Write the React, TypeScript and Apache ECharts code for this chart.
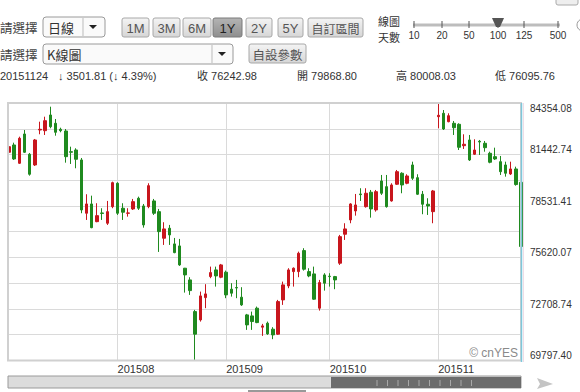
import React, { useEffect, useRef } from "react";
import * as echarts from "echarts";

// ---- data ----
const julDays = [3, 6, 7, 8, 9, 10, 13, 14, 15, 16, 17, 20, 21, 22, 23, 24, 27, 28, 29, 30, 31];
const augDays = [3, 4, 5, 6, 7, 10, 11, 12, 13, 14, 17, 18, 19, 20, 21, 24, 25, 26, 27, 28, 31];
const sepDays = [1, 2, 4, 7, 8, 9, 10, 11, 14, 15, 16, 17, 18, 21, 22, 23, 24, 25, 29, 30];
const octDays = [1, 2, 5, 6, 7, 8, 12, 13, 14, 15, 16, 19, 20, 21, 22, 23, 26, 27, 28, 29, 30];
const novDays = [2, 3, 4, 5, 6, 9, 10, 11, 12, 13, 16, 17, 18, 19, 20, 23, 24];

const pad = (d: number) => (d < 10 ? "0" + d : "" + d);
const dates: string[] = [
  ...julDays.map((d) => "201507" + pad(d)),
  ...augDays.map((d) => "201508" + pad(d)),
  ...sepDays.map((d) => "201509" + pad(d)),
  ...octDays.map((d) => "201510" + pad(d)),
  ...novDays.map((d) => "201511" + pad(d)),
];

const opens = [
  81569, 81981, 80947, 82602, 81456, 80851, 82828, 82789, 83676, 83207,
  82868, 82772, 81602, 81698, 81134, 78122, 78647, 77647, 78139, 77557,
  78495, 79817, 78405, 78122, 78365, 78970, 78534, 78495, 78817, 78212,
  76710, 77275, 76388, 76274, 75015, 74353, 72562, 72093, 73353, 74540,
  74918, 74506, 74789, 73828, 73918, 73376, 72376, 72319, 72755, 71681,
  71907, 71568, 71286, 73223, 74014, 74822, 74822, 76009, 74822, 74692,
  72755, 74636, 74563, 74540, 75297, 76936, 77743, 78252, 79212, 78495,
  79309, 78308, 79947, 79625, 78817, 79761, 80382, 79817, 80851, 80133,
  79196, 78631, 78212, 83580, 83772, 83297, 83207, 83151, 81941, 82264,
  81456, 82190, 82077, 81512, 81320, 81037, 80851, 80342, 80625, 79868.8,
];
const closes = [
  81885, 81190, 82360, 81569, 80326, 82264, 82868, 83354, 83015, 82699,
  82789, 81320, 81569, 81173, 78308, 78647, 77308, 77986, 78111, 78212,
  79851, 78122, 78179, 78139, 78777, 78405, 77461, 79681, 78122, 77082,
  77235, 76896, 75896, 75201, 74636, 73749, 71286, 73449, 73562, 74766,
  74579, 75201, 73506, 73602, 73901, 72941, 71811, 72000, 71941, 71754,
  71302, 71246, 73127, 74071, 74918, 75015, 75862, 74958, 74579, 73263,
  74201, 74167, 74540, 74353, 76800, 77235, 78647, 78591, 79173, 79252,
  78365, 79342, 79252, 78495, 79721, 80472, 79721, 80229, 80100, 79196,
  78631, 78534, 79382, 83659, 82885, 83636, 82958, 81851, 82021, 81134,
  81698, 82150, 81828, 81004, 81190, 80472, 80382, 80625, 79744.79, 76242.98,
];
const lows = [
  80947, 81134, 80908, 81529, 80246, 80794, 82586, 82546, 82925, 82506,
  82699, 80981, 80908, 80665, 78122, 77743, 77275, 77614, 77743, 77461,
  78405, 78026, 77743, 77930, 78308, 78308, 77308, 78405, 78026, 75935,
  76331, 76331, 75862, 75144, 73636, 73506, 69797.4, 71997, 72755, 74450,
  73975, 74450, 73320, 73410, 73320, 72884, 71528, 71528, 71907, 71189,
  71246, 71003, 71246, 72941, 73885, 73975, 74506, 74879, 74506, 73223,
  72619, 73749, 73975, 73828, 75201, 76613, 77557, 77986, 78817, 78438,
  77873, 78212, 79156, 78438, 78777, 79721, 79252, 79761, 80003, 79156,
  78066, 78026, 77557, 82925, 82828, 83264, 82546, 81698, 81755, 81077,
  81416, 81416, 81602, 80947, 81134, 80286, 80190, 80286, 79681, 76095.76,
];
const highs = [
  81981, 82111, 82450, 82828, 81529, 82320, 83297, 83580, 84145, 83450,
  82958, 82885, 81885, 81795, 81246, 79196, 79116, 78687, 78405, 78817,
  79907, 79874, 78687, 78405, 78930, 79060, 78647, 79817, 78930, 78365,
  77614, 77461, 76726, 76670, 75031, 74506, 72658, 73692, 74111, 75105,
  75105, 75257, 74879, 74167, 74353, 73941, 72432, 72562, 72845, 71867,
  71997, 71681, 73223, 74257, 75015, 75060, 75952, 76145, 75015, 75105,
  74353, 74732, 74732, 74579, 76896, 77557, 78687, 79212, 79535, 79535,
  79438, 79438, 80286, 80286, 79817, 80568, 80439, 80326, 81037, 80326,
  79382, 78970, 79438, 84354.08, 83958, 83772, 83337, 83207, 82586, 82546,
  82303, 82264, 82207, 81602, 81828, 81359, 81037, 81037, 80755, 80008.03,
];

const yLabelValues = [69797.4, 72708.74, 75620.07, 78531.41, 81442.74];
const yTopLabel = [84354.08];
const yGridValues = [
  69797.4, 71253.07, 72708.74, 74164.4, 75620.07, 77075.74, 78531.41,
  79987.08, 81442.74, 82898.41, 84354.08,
];
const yMin = 69797.4;
const yMax = 84354.08;
const sliderLabels = ["10", "20", "50", "100", "125", "500"];
const periodButtons = ["1M", "3M", "6M", "1Y", "2Y", "5Y", "自訂區間"];

const LATIN = '"Liberation Sans", Arial, "Noto Sans CJK TC", sans-serif';
const CJK = '"Noto Sans CJK TC", "Liberation Sans", sans-serif';
const RED = "#c8161d";
const GREEN = "#1f8a1f";

const isMonthStart = (i: number) =>
  i > 0 && dates[i].slice(0, 6) !== dates[i - 1].slice(0, 6);

function txt(text: string, x: number, y: number, size: number, opts: any = {}) {
  return {
    type: "text",
    x,
    y,
    z: 50,
    style: {
      text,
      fill: opts.fill || "#333",
      font: `${size}px ${opts.font || LATIN}`,
      textAlign: opts.align || "left",
      align: opts.align || "left",
      textVerticalAlign: "middle",
      verticalAlign: "middle",
    },
  };
}

function button(label: string, x: number, y: number, w: number, h: number, pressed: boolean, size: number) {
  return [
    {
      type: "rect",
      z: 40,
      shape: { x, y, width: w, height: h, r: 2 },
      style: {
        fill: new echarts.graphic.LinearGradient(0, 0, 0, 1, [
          { offset: 0, color: pressed ? "#b4b4b4" : "#f4f4f4" },
          { offset: 1, color: pressed ? "#8e8e8e" : "#d6d6d6" },
        ]),
        stroke: pressed ? "#7a7a7a" : "#a8a8a8",
        lineWidth: 1,
      },
    },
    txt(label, x + w / 2, y + h / 2 + 0.5, size, {
      align: "center",
      fill: pressed ? "#222" : "#555",
      font: /[A-Z0-9]/.test(label) ? LATIN : CJK,
    }),
  ];
}

export default function App() {
  const ref = useRef<HTMLDivElement>(null);

  useEffect(() => {
    if (!ref.current) return;
    const chart = echarts.init(ref.current, undefined, { renderer: "svg" });

    const candles = dates.map((_, i) => [opens[i], closes[i], lows[i], highs[i]]);
    const n = dates.length;
    const lastClose = closes[n - 1];
    const prevClose = closes[n - 2];
    const chg = lastClose - prevClose;
    const pct = (chg / prevClose) * 100;
    const arrow = chg < 0 ? "↓" : "↑";

    const btnX = [122, 153, 183, 213, 246, 278, 308];
    const btnW = [27, 27, 28, 29, 26, 25, 55];
    const sliderX = [414, 442, 469, 498, 524, 558];

    const graphics: any[] = [];
    // Row 1
    graphics.push(txt("請選擇", 0, 27, 12.5, { font: CJK, fill: "#444" }));
    graphics.push({
      type: "rect", z: 40,
      shape: { x: 43, y: 17, width: 62, height: 20, r: 3 },
      style: { fill: "#fafafa", stroke: "#9a9a9a", lineWidth: 1 },
    });
    graphics.push(txt("日線", 48, 27, 13, { font: CJK, fill: "#333" }));
    graphics.push({ type: "line", z: 41, shape: { x1: 83, y1: 18, x2: 83, y2: 36 }, style: { stroke: "#bbb" } });
    graphics.push({ type: "polygon", z: 41, shape: { points: [[89, 25], [97, 25], [93, 29]] }, style: { fill: "#222" } });
    periodButtons.forEach((b, k) => {
      graphics.push(...button(b, btnX[k], 18, btnW[k], 19, b === "1Y", b.length > 2 ? 12 : 13));
    });
    graphics.push(txt("線圖", 378, 21, 11, { font: CJK, fill: "#333" }));
    graphics.push(txt("天數", 378, 37, 11, { font: CJK, fill: "#333" }));
    graphics.push({ type: "line", z: 40, shape: { x1: 413, y1: 25, x2: 560, y2: 25 }, style: { stroke: "#bdbdbd", lineWidth: 3 } });
    sliderLabels.forEach((l, k) => {
      graphics.push({ type: "line", z: 41, shape: { x1: sliderX[k], y1: 21, x2: sliderX[k], y2: 28 }, style: { stroke: "#555", lineWidth: 1 } });
      graphics.push(txt(l, sliderX[k], 35, 10, { align: "center", fill: "#333" }));
    });
    graphics.push({ type: "polygon", z: 42, shape: { points: [[492, 18], [504, 18], [500, 27], [496, 27]] }, style: { fill: "#555" } });
    graphics.push({ type: "circle", z: 40, shape: { cx: 583, cy: 25, r: 6 }, style: { fill: "#fff", stroke: "#999" } });
    graphics.push({ type: "rect", z: 40, shape: { x: 556, y: -10, width: 22, height: 15, r: 2 }, style: { fill: "#eee", stroke: "#aaa" } });

    // Row 2
    graphics.push(txt("請選擇", 0, 54, 12.5, { font: CJK, fill: "#444" }));
    graphics.push({
      type: "rect", z: 40,
      shape: { x: 43, y: 44, width: 190, height: 20, r: 3 },
      style: { fill: "#fafafa", stroke: "#9a9a9a", lineWidth: 1 },
    });
    graphics.push(txt("K線圖", 47, 54, 13, { font: CJK, fill: "#333" }));
    graphics.push({ type: "line", z: 41, shape: { x1: 212, y1: 45, x2: 212, y2: 63 }, style: { stroke: "#bbb" } });
    graphics.push({ type: "polygon", z: 41, shape: { points: [[218, 52], [226, 52], [222, 56]] }, style: { fill: "#222" } });
    graphics.push(...button("自設參數", 249, 44, 57, 19, false, 12.5));

    // Row 3
    graphics.push(txt(dates[n - 1], 0, 76, 11));
    graphics.push(
      txt(`${arrow} ${Math.abs(chg).toFixed(2)} (${arrow} ${Math.abs(pct).toFixed(2)}%)`, 58, 76, 11)
    );
    graphics.push(txt(`收 ${lastClose.toFixed(2)}`, 197, 76, 11));
    graphics.push(txt(`開 ${opens[n - 1].toFixed(2)}`, 297, 76, 11));
    graphics.push(txt(`高 ${highs[n - 1].toFixed(2)}`, 396, 76, 11));
    graphics.push(txt(`低 ${lows[n - 1].toFixed(2)}`, 495, 76, 11));

    // plot frame
    graphics.push({
      type: "rect", z: 5,
      shape: { x: 8, y: 103, width: 513, height: 257.5 },
      style: { fill: "none", stroke: "#d0d0d0", lineWidth: 2 },
    });
    graphics.push({ type: "line", z: 6, shape: { x1: 521.5, y1: 103, x2: 521.5, y2: 362 }, style: { stroke: "#7ec6da", lineWidth: 1.5 } });
    graphics.push({ type: "line", z: 6, shape: { x1: 523.5, y1: 103, x2: 523.5, y2: 362 }, style: { stroke: "#f0dce6", lineWidth: 1 } });
    graphics.push(txt("© cnYES", 518, 353, 12, { align: "right", fill: "#8a8a8a" }));

    // scroll bar
    graphics.push({ type: "rect", z: 40, shape: { x: 8, y: 376, width: 513, height: 12 }, style: { fill: "#dcdcdc", stroke: "#9a9a9a", lineWidth: 1 } });
    graphics.push({ type: "rect", z: 41, shape: { x: 331, y: 377, width: 190, height: 11 }, style: { fill: "#6c6c6c" } });
    for (let k = 0; k < 10; k++) {
      const hx = 377 + k * 10.5;
      graphics.push({ type: "line", z: 42, shape: { x1: hx, y1: 380, x2: hx, y2: 386 }, style: { stroke: "#a8a8a8", lineWidth: 1 } });
    }
    graphics.push({ type: "polygon", z: 40, shape: { points: [[537, 378], [553, 384], [537, 389], [540, 384]] }, style: { fill: "#c4c4c4" } });
    graphics.push({ type: "line", z: 40, shape: { x1: 248, y1: 391, x2: 306, y2: 391 }, style: { stroke: "#777", lineWidth: 1.5 } });

    chart.setOption({
      animation: false,
      backgroundColor: "#fff",
      grid: { left: 9, top: 103, width: 512, height: 257.5, containLabel: false },
      xAxis: {
        type: "category",
        data: dates,
        boundaryGap: false,
        axisLine: { show: false },
        axisTick: { show: false },
        splitLine: {
          show: true,
          interval: (i: number) => isMonthStart(i),
          lineStyle: { color: "#dadada", width: 1 },
        },
        axisLabel: {
          interval: (i: number) => isMonthStart(i),
          formatter: (v: string) => v.slice(0, 6),
          align: "left",
          color: "#333",
          fontSize: 11,
          fontFamily: LATIN,
          margin: 3,
          hideOverlap: false,
        },
      },
      yAxis: [
        {
          type: "value",
          position: "right",
          min: yMin,
          max: yMax,
          axisLine: { show: false },
          axisTick: { show: false, customValues: yGridValues },
          splitLine: { show: true, lineStyle: { color: "#dadada", width: 1 } },
          axisLabel: {
            customValues: yLabelValues,
            formatter: (v: number) => v.toFixed(2),
            color: "#333",
            fontSize: 10,
            fontFamily: LATIN,
            margin: 9,
            verticalAlign: "bottom",
          },
        },
        {
          type: "value",
          position: "right",
          min: yMin,
          max: yMax,
          axisLine: { show: false },
          axisTick: { show: false, customValues: yTopLabel },
          splitLine: { show: false },
          axisLabel: {
            customValues: yTopLabel,
            formatter: (v: number) => v.toFixed(2),
            color: "#333",
            fontSize: 10,
            fontFamily: LATIN,
            margin: 9,
            verticalAlign: "top",
          },
        },
      ],
      series: [
        {
          type: "candlestick",
          data: candles,
          xAxisIndex: 0,
          yAxisIndex: 0,
          barWidth: 3,
          clip: false,
          itemStyle: {
            color: RED,
            color0: GREEN,
            borderColor: RED,
            borderColor0: GREEN,
            borderWidth: 1,
          },
        },
      ],
      graphic: { elements: graphics },
    });

    return () => chart.dispose();
  }, []);

  return (
    <div
      ref={ref}
      style={{ position: "fixed", left: 0, top: 0, width: 580, height: 392, background: "#fff" }}
    />
  );
}
